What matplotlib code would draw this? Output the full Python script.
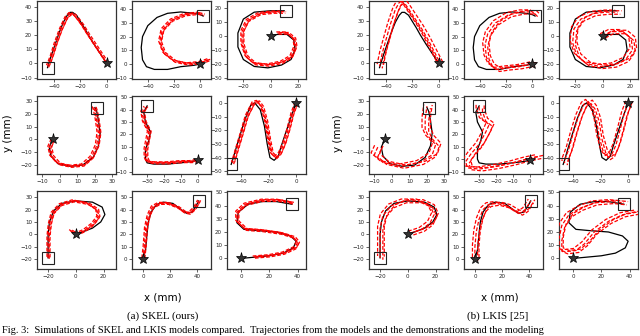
import numpy as np
import matplotlib
matplotlib.use("Agg")
import matplotlib.pyplot as plt

# reference (demonstration) paths, black
A_ref = [(0, 0), (-5, 7), (-10, 14), (-14, 20), (-17, 25), (-19, 28), (-21, 31), (-23, 34), (-26, 36), (-28, 36), (-30, 34),
         (-33, 29), (-36, 22), (-39, 14), (-42, 6), (-44, 0), (-45, -3)]
C_ref = [(0, 0), (-5, -1), (-15, -2), (-25, -4), (-35, -4), (-41, -2), (-44, 3), (-45, 12), (-44, 20), (-40, 28), (-33, 34),
         (-25, 37), (-15, 38), (-5, 37), (0, 36), (2, 35)]
G_ref = [(0, 0), (5, 1), (12, 1), (17, -3), (18, -10), (15, -17), (8, -21), (-2, -23), (-12, -22), (-20, -17), (-24, -8),
         (-24, 2), (-20, 12), (-12, 17), (0, 18), (10, 18)]
J_ref = [(-4, 0), (-6, -6), (-5, -13), (-1, -19), (6, -21), (13, -20), (19, -14), (22, -5), (23, 5), (22, 15), (21, 22), (20, 25)]
L_ref = [(0, -1), (-4, -2), (-10, -3), (-18, -4), (-26, -4), (-30, -3), (-31, 0), (-31, 8), (-29, 15), (-28, 22), (-31, 30),
         (-32, 38), (-30, 43)]
N_ref = [(0, 0), (-3, -8), (-7, -20), (-11, -32), (-13, -39), (-16, -42), (-19, -40), (-21, -30), (-23, -17), (-26, -5),
         (-30, 0), (-33, -2), (-37, -12), (-41, -25), (-44, -35), (-46, -42), (-47, -45)]
P_ref = [(0, 0), (5, 2), (12, 5), (18, 10), (21, 16), (19, 22), (12, 26), (0, 27), (-10, 25), (-16, 19), (-19, 10),
         (-20, 0), (-20, -10), (-20, -19)]
W_ref = [(0, 0), (2, 8), (3, 20), (4, 30), (6, 38), (10, 44), (15, 46), (22, 45), (28, 40), (32, 37), (36, 38), (39, 43), (41, 47)]
S_ref = [(0, 0), (10, 1), (20, 2), (30, 4), (37, 8), (39, 13), (35, 17), (25, 20), (12, 21), (2, 22), (-3, 27), (-2, 35),
         (5, 41), (15, 43), (25, 43), (36, 41)]

# SKEL reproductions, red dashed
A_skel = [(0, 0), (-5, 7), (-10, 14), (-15, 21), (-19, 27), (-23, 32), (-26, 35), (-28, 35), (-31, 32), (-35, 24),
          (-39, 14), (-42, 5), (-44, 0), (-45, -2)]
C_skel = [(6, 3), (0, 1), (-10, 0), (-20, 2), (-28, 8), (-31, 16), (-29, 25), (-22, 32), (-12, 36), (-2, 37), (2, 36)]
G_skel = [(5, 2), (12, 2), (17, -2), (18, -8), (15, -15), (8, -19), (-2, -21), (-12, -20), (-18, -15), (-21, -6),
          (-21, 3), (-17, 11), (-8, 16), (2, 17), (10, 17)]
J_skel = [(-4, 0), (-6, -6), (-5, -13), (-1, -19), (6, -21), (13, -20), (18, -14), (21, -5), (22, 5), (21, 15), (20, 22), (19, 26)]
L_skel = [(0, -1), (-4, -2), (-10, -2), (-18, -3), (-26, -3), (-30, -2), (-31, 1), (-31, 8), (-30, 15), (-29, 22), (-32, 30),
          (-33, 38), (-31, 42)]
N_skel = [(0, 0), (-3, -8), (-6, -20), (-9, -30), (-12, -37), (-15, -40), (-18, -37), (-20, -27), (-22, -14), (-25, -3),
          (-28, 1), (-31, 0), (-36, -10), (-40, -24), (-43, -34), (-45, -41), (-46, -44)]
P_skel = [(-4, 3), (0, 0), (6, 3), (12, 8), (16, 14), (15, 20), (8, 25), (-2, 27), (-11, 24), (-17, 17), (-19, 8),
          (-20, -2), (-20, -12), (-20, -19)]
W_skel = [(0, 0), (1, 10), (2, 25), (4, 35), (7, 42), (12, 45), (18, 45), (25, 42), (30, 38), (34, 37), (38, 41), (41, 47)]
S_skel = [(9, 1), (20, 2), (30, 4), (38, 8), (40, 12), (37, 16), (28, 19), (15, 21), (3, 22), (-3, 28), (-3, 35), (3, 41),
          (15, 44), (26, 44), (36, 42)]

# LKIS reproductions, red dashed
A_lkis = [(0, 0), (-5, 9), (-10, 18), (-15, 26), (-20, 33), (-25, 40), (-28, 44), (-30, 43), (-33, 38), (-37, 27),
          (-40, 17), (-43, 7), (-45, -2)]
C_lkis = [(0, 0), (-10, -2), (-20, -3), (-27, -4), (-32, -1), (-35, 5), (-36, 14), (-34, 22), (-28, 30), (-18, 36), (-8, 38),
          (0, 38), (2, 36)]
G_lkis = [(0, 0), (6, 3), (15, 3), (21, -2), (22, -10), (17, -17), (8, -21), (-2, -22), (-12, -20), (-19, -14), (-22, -5),
          (-21, 5), (-16, 12), (-7, 16), (3, 17), (11, 17)]
J_lkis = [(-8, -6), (-10, -12), (-5, -18), (5, -21), (16, -18), (23, -12), (25, -4), (21, 2), (19, 8), (19, 16), (20, 26)]
L_lkis = [(5, 2), (-2, 0), (-10, -3), (-20, -6), (-30, -8), (-37, -7), (-38, -2), (-35, 4), (-30, 12), (-26, 22),
          (-24, 28), (-28, 32), (-30, 40), (-30, 43)]
N_lkis = [(0, 0), (-3, -8), (-6, -20), (-9, -31), (-12, -38), (-15, -40), (-18, -36), (-21, -25), (-23, -12), (-26, -3),
          (-29, 1), (-32, -1), (-36, -10), (-40, -23), (-43, -34), (-46, -42), (-46, -44)]
P_lkis = [(2, 1), (10, 4), (16, 9), (19, 16), (16, 23), (8, 27), (-3, 27), (-12, 23), (-18, 15), (-20, 5), (-20, -5), (-20, -19)]
W_lkis = [(0, 0), (0, 10), (1, 22), (3, 32), (6, 40), (10, 44), (16, 45), (23, 43), (29, 39), (33, 37), (37, 40), (41, 47)]
S_lkis = [(45, 35), (35, 33), (25, 28), (15, 20), (8, 11), (2, 6), (-6, 5), (-10, 7), (-10, 15), (-8, 25), (-3, 33),
          (5, 38), (15, 42), (27, 43), (36, 42)]

ref_paths = [A_ref, C_ref, G_ref, J_ref, L_ref, N_ref, P_ref, W_ref, S_ref]
skel_paths = [A_skel, C_skel, G_skel, J_skel, L_skel, N_skel, P_skel, W_skel, S_skel]
lkis_paths = [A_lkis, C_lkis, G_lkis, J_lkis, L_lkis, N_lkis, P_lkis, W_lkis, S_lkis]

# start star and end square
starts = [(0, 0), (0, 0), (0, 0), (-4, 0), (0, -1), (0, 0), (0, 0), (0, 0), (0, 0)]
ends = [(-45, -3), (2, 35), (11, 18), (21, 25), (-30, 43), (-47, -45), (-20, -19), (41, 47), (36, 41)]

xlims = [(-53, 7), (-52, 8), (-32, 26), (-13, 32), (-39, 8), (-50, 7), (-28, 29), (-8, 50), (-10, 46)]
ylims = [(-11, 44), (-11, 46), (-31, 25), (-27, 34), (-12, 51), (-52, 5), (-28, 35), (-8, 55), (-8, 51)]
xticks = [[-40, -20, 0], [-40, -20, 0], [-20, 0, 20], [-10, 0, 10, 20, 30], [-30, -20, -10, 0], [-40, -20, 0],
          [-20, 0, 20], [0, 20, 40], [0, 20, 40]]
yticks = [[-10, 0, 10, 20, 30, 40], [-10, 0, 10, 20, 30, 40], [-30, -20, -10, 0, 10, 20], [-20, -10, 0, 10, 20, 30],
          [-10, 0, 10, 20, 30, 40, 50], [-50, -40, -30, -20, -10, 0], [-20, -10, 0, 10, 20, 30],
          [0, 10, 20, 30, 40, 50], [0, 10, 20, 30, 40, 50]]

# several repeated runs drawn per letter
skel_runs = [(0, 0), (0.8, -0.8), (-0.8, 0.8), (1.4, 0.4)]
lkis_runs = [(0, 0), (2.0, -1.5), (-1.8, 1.5), (3.0, 1.0)]

col_left = [[37, 132, 227], [369, 464, 559]]
row_top = [1, 96, 191]
W, H = 640, 336
aw, ah = 79, 78


def draw_panel(fig, cols, runs_paths, runs):
    for k in range(9):
        r, c = divmod(k, 3)
        ax = fig.add_axes([cols[c] / W, 1 - (row_top[r] + ah) / H, aw / W, ah / H])
        rx, ry = zip(*ref_paths[k])
        ax.plot(rx, ry, color="black", lw=0.9, zorder=2)
        px, py = np.array(runs_paths[k], dtype=float).T
        for dx, dy in runs:
            ax.plot(px + dx, py + dy, color="red", lw=0.9, ls=(0, (3, 1.5)), zorder=3)
        ax.plot(*starts[k], marker="*", ms=8, color="#333333", mec="black", mew=0.5, zorder=4)
        ax.plot(*ends[k], marker="s", ms=8, mfc="none", mec="#222222", mew=0.8, zorder=4)
        ax.set_xlim(*xlims[k])
        ax.set_ylim(*ylims[k])
        ax.set_xticks(xticks[k])
        ax.set_yticks(yticks[k])
        ax.tick_params(labelsize=4, length=2, width=0.5, pad=1.5, colors="#222222")
        for s in ax.spines.values():
            s.set_linewidth(0.9)
            s.set_color("#333333")


fig = plt.figure(figsize=(6.4, 3.36), dpi=100)
draw_panel(fig, col_left[0], skel_paths, skel_runs)
draw_panel(fig, col_left[1], lkis_paths, lkis_runs)

fig.text(8 / W, 1 - 133 / H, "y (mm)", rotation=90, ha="center", va="center", fontsize=7.5)
fig.text(338 / W, 1 - 133 / H, "y (mm)", rotation=90, ha="center", va="center", fontsize=7.5)
fig.text(163 / W, 1 - 298 / H, "x (mm)", ha="center", va="center", fontsize=7.5)
fig.text(500 / W, 1 - 298 / H, "x (mm)", ha="center", va="center", fontsize=7.5)
fig.text(163 / W, 1 - 316 / H, "(a) SKEL (ours)", ha="center", va="center", fontsize=8, family="Liberation Serif")
fig.text(498 / W, 1 - 316 / H, "(b) LKIS [25]", ha="center", va="center", fontsize=8, family="Liberation Serif")
fig.text(2 / W, 1 - 330 / H, "Fig. 3:  Simulations of SKEL and LKIS models compared.  Trajectories from the models and the demonstrations and the modeling",
         ha="left", va="center", fontsize=7.5, family="Liberation Serif")

fig.savefig("out.png", dpi=100)
